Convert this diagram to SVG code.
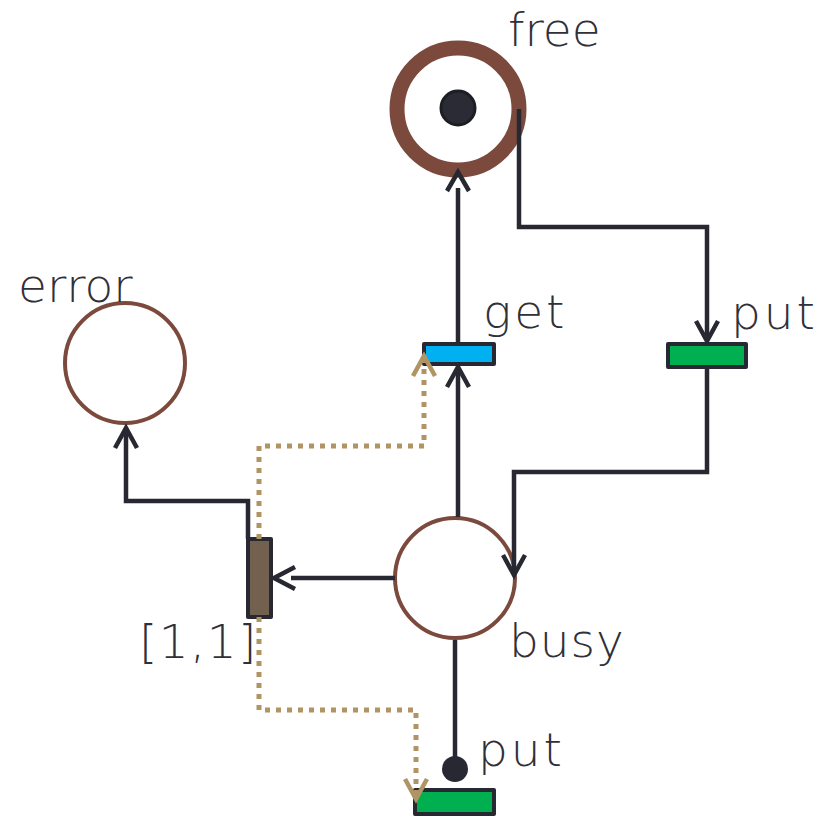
<svg xmlns="http://www.w3.org/2000/svg" width="833" height="816" viewBox="0 0 833 816">
<style>
.lbl{font-family:"DejaVu Sans","Liberation Sans",sans-serif;font-weight:200;font-size:47px;fill:#30303a}
.wide{letter-spacing:3px}
.place{fill:#fff;stroke:#7b4a3d;stroke-width:4}
.arc{fill:none;stroke:#282832;stroke-width:4.5}
.dot{fill:none;stroke:#b09464;stroke-width:5;stroke-dasharray:5 6}
.head{fill:none;stroke:#282832;stroke-width:4.5;stroke-linecap:butt;stroke-linejoin:miter}
.thead{fill:none;stroke:#b09464;stroke-width:4.5}
.trans{stroke:#282832;stroke-width:4;stroke-linejoin:round}
</style>
<rect width="833" height="816" fill="#fff"/>
<g id="free">
  <circle cx="458" cy="109" r="61" fill="#fff" stroke="#7b4a3d" stroke-width="15"/>
  <circle cx="458" cy="108" r="17" fill="#2b2b36" stroke="#1d1d24" stroke-width="3"/>
  <text class="lbl" x="508" y="46">free</text>
</g>
<g id="error">
  <circle class="place" cx="125" cy="363" r="60"/>
  <text class="lbl" x="18" y="302">error</text>
</g>
<g id="busy">
  <circle class="place" cx="455" cy="578" r="60"/>
  <text class="lbl" x="509" y="657" style="letter-spacing:1px">busy</text>
</g>
<g id="get">
  <rect class="trans" x="424" y="344" width="70" height="20" fill="#00b0f0"/>
  <text class="lbl wide" x="483" y="328">get</text>
</g>
<g id="put1">
  <rect class="trans" x="668" y="344" width="78" height="23" fill="#00b050"/>
  <text class="lbl wide" x="731" y="329">put</text>
</g>
<g id="t11">
  <rect class="trans" x="248" y="539" width="23" height="78" fill="#736150"/>
  <text class="lbl" x="139" y="658" style="letter-spacing:1.5px">[1,1]</text>
</g>
<g id="put2">
  <rect class="trans" x="415" y="790" width="79" height="24" fill="#00b050"/>
  <text class="lbl wide" x="478" y="766">put</text>
</g>
<g id="connectors">
  <path class="arc" d="M458,344 V188"/>
  <path class="head" d="M447,191 L458,172 L469,191"/>
  <path class="arc" d="M519,109 V227 H707 V338"/>
  <path class="head" d="M696,321 L707,341 L718,321"/>
  <path class="arc" d="M707,367 V472 H514 V572"/>
  <path class="head" d="M503,555 L514,575 L525,555"/>
  <path class="arc" d="M458,517 V370"/>
  <path class="head" d="M447,387 L458,367 L469,387"/>
  <path class="arc" d="M395,578 H291"/>
  <path class="head" d="M295,567 L274,578 L295,589"/>
  <path class="arc" d="M248,539 V501 H126 V432"/>
  <path class="head" d="M115,448 L126,428 L137,448"/>
  <path class="arc" d="M455,640 V760"/>
  <circle cx="455" cy="769" r="13" fill="#282832"/>
  <path class="dot" d="M259,539 V446 H424 V360"/>
  <path class="thead" d="M413,376 L424,356 L435,376"/>
  <path class="dot" d="M259,617 V710 H416 V796"/>
  <path class="thead" d="M405,779 L416,799 L427,779"/>
</g>
</svg>
